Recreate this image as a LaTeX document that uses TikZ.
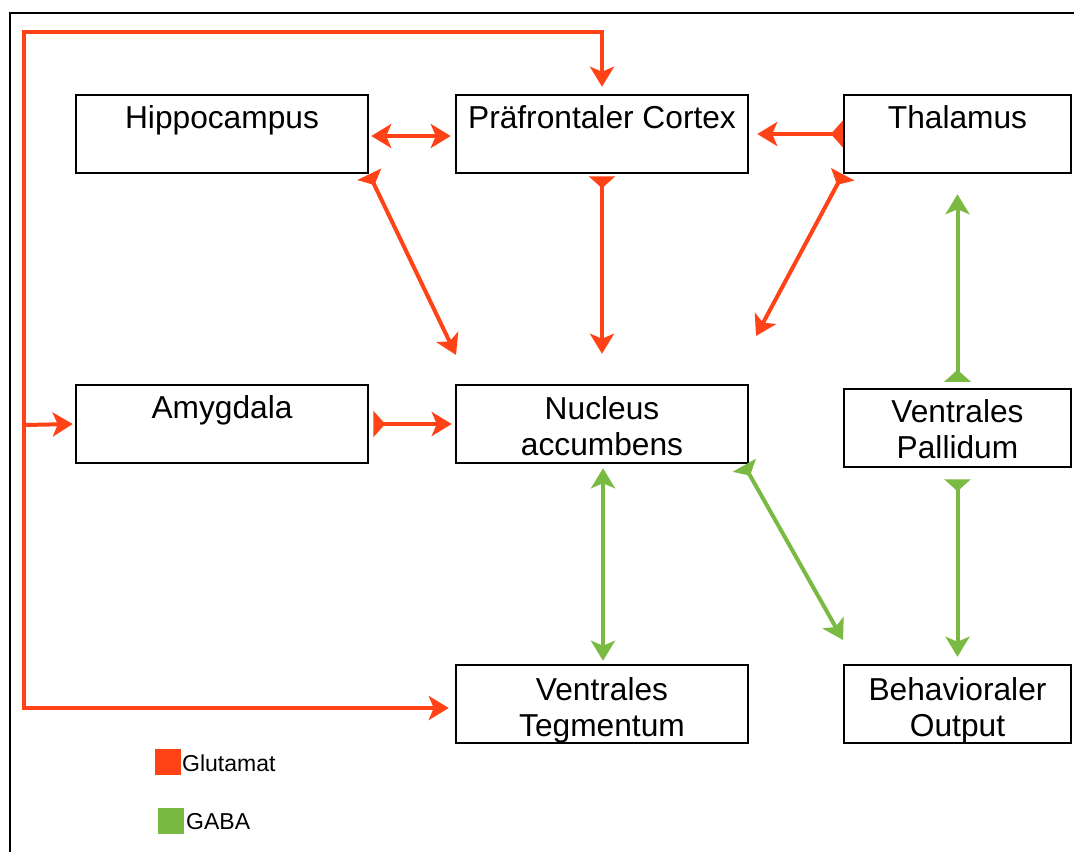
\documentclass[tikz,border=0pt]{standalone}
\usepackage{fontspec}
\setmainfont{Liberation Sans}
\usetikzlibrary{arrows.meta}
\definecolor{glu}{RGB}{255,67,23}
\definecolor{gaba}{RGB}{122,185,66}
\tikzset{
  headA/.tip={Stealth[length=20pt,width=24pt,inset=5pt]},
  tailA/.tip={Triangle[reversed,length=12pt,width=26pt]},
  box/.style={draw=black,line width=2.5pt,inner sep=0pt,minimum height=78pt},
  wbox/.style={box,minimum width=292pt},
  nbox/.style={box,minimum width=227pt},
  txt/.style={inner sep=0pt,align=center,font=\fontsize{31.7}{36.5}\selectfont},
  red/.style={draw=glu,line width=4pt},
  grn/.style={draw=gaba,line width=4pt},
  legsq/.style={inner sep=0pt,minimum size=26pt},
  legtx/.style={anchor=west,inner sep=0pt,font=\fontsize{23}{26}\selectfont}
}
\begin{document}
\begin{tikzpicture}[x=1pt,y=-1pt]
\useasboundingbox (0,0) rectangle (1074,852);
% frame
\draw[line width=2.5pt] (10,852) -- (10,13) -- (1076,13);
% boxes
\node[wbox] (hip) at (222,134) {};
\node[wbox] (pfc) at (602,134) {};
\node[nbox] (thal) at (957.5,134) {};
\node[wbox] (amy) at (222,424) {};
\node[wbox] (nac) at (602,424) {};
\node[nbox] (vp) at (957.5,428) {};
\node[wbox] (vt) at (602,704) {};
\node[nbox] (bo) at (957.5,704) {};
% texts
\node[txt] (hipt) at ([yshift=-1pt]hip.center) {Hippocampus\\ \mbox{}};
\node[txt] (pfct) at ([yshift=-1pt]pfc.center) {Präfrontaler Cortex\\ \mbox{}};
\node[txt] (thalt) at ([yshift=-1pt]thal.center) {Thalamus\\ \mbox{}};
\node[txt] (amyt) at ([yshift=-1pt]amy.center) {Amygdala\\ \mbox{}};
\node[txt] (nact) at ([yshift=-2pt]nac.center) {Nucleus\\ accumbens};
\node[txt] (vpt) at ([yshift=-1pt]vp.center) {Ventrales\\ Pallidum};
\node[txt] (vtt) at ([yshift=-6.5pt]vt.center) {Ventrales\\ Tegmentum};
\node[txt] (bot) at ([yshift=-6.5pt]bo.center) {Behavioraler\\ Output};
% free ends
\coordinate (tl) at (24,32);
\coordinate (bl) at (24,708);
\coordinate (ml) at (24,425);
\coordinate (a1) at (456,355);
\coordinate (a2) at (756,336);
\coordinate (a3) at (843,640);
% red loop
\draw[red,line join=miter,{headA}-{headA},shorten <=7pt,shorten >=6pt]
  (pfc.north) |- (tl) -- (bl) -- (vt.west |- bl);
\draw[red,-{headA},shorten >=2pt] (ml) -- (amy.west);
% red connections
\draw[red,{headA}-{headA},shorten <=2pt,shorten >=4pt] ([yshift=-2pt]hip.east) -- ([yshift=-2pt]pfc.west);
\draw[red,{tailA}-{headA},shorten >=8pt] (thal.west) -- (pfc.east);
\draw[red,{tailA}-{headA}] (hip.south east) -- (a1);
\draw[red,{tailA}-{headA},shorten <=2pt,shorten >=30pt] (pfc.south) -- (nac.north);
\draw[red,{tailA}-{headA}] (thal.south west) -- (a2);
\draw[red,{tailA}-{headA},shorten <=4pt,shorten >=3pt] (amy.east) -- (nac.west);
% green connections
\draw[grn,{headA}-{headA},shorten <=4pt,shorten >=3pt] ([xshift=1pt]nac.south) -- ([xshift=1pt]vt.north);
\draw[grn,{tailA}-{headA}] ([xshift=-5pt,yshift=-1pt]nac.south east) -- (a3);
\draw[grn,{tailA}-{headA},shorten <=6pt,shorten >=20pt] (vp.north) -- (thal.south);
\draw[grn,{tailA}-{headA},shorten <=11pt,shorten >=7pt] (vp.south) -- (bo.north);
% legend
\node[legsq,fill=glu] (lr) at (168,762) {};
\node[legtx] (lrt) at (182,763) {Glutamat};
\node[legsq,fill=gaba] (lg) at (170.5,820.5) {};
\node[legtx] (lgt) at (186,822) {GABA};
\end{tikzpicture}
\end{document}
